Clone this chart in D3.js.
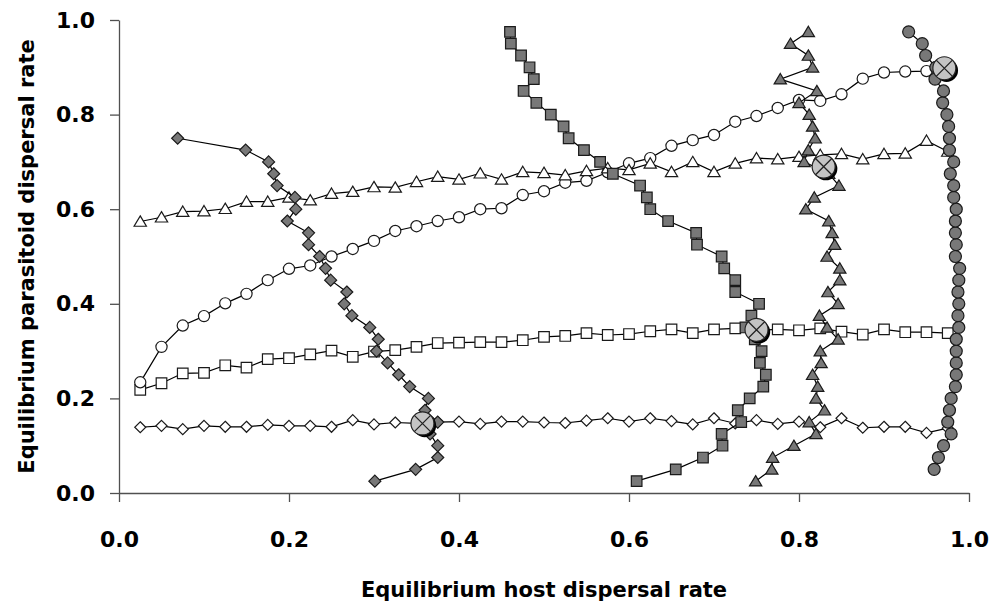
<!DOCTYPE html>
<html>
<head>
<meta charset="utf-8">
<script src="https://cdn.jsdelivr.net/npm/d3@7"></script>
<style>
  body { margin: 0; background: #fff; }
</style>
</head>
<body>
<div id="canvas"></div>
<script>
"use strict"

/* Dispersal levels used as the fixed axis of every series (0.025 steps) */
let levels = [0.025, 0.05, 0.075, 0.1, 0.125, 0.15, 0.175, 0.2, 0.225, 0.25,
              0.275, 0.3, 0.325, 0.35, 0.375, 0.4, 0.425, 0.45, 0.475, 0.5,
              0.525, 0.55, 0.575, 0.6, 0.625, 0.65, 0.675, 0.7, 0.725, 0.75,
              0.775, 0.8, 0.825, 0.85, 0.875, 0.9, 0.925, 0.95, 0.975];

/* Open markers: host rate = level, parasitoid rate */
let openDiamondY = [0.139, 0.142, 0.135, 0.142, 0.140, 0.140, 0.144, 0.142, 0.142, 0.140,
                    0.154, 0.145, 0.149, 0.147, 0.150, 0.151, 0.146, 0.151, 0.151, 0.149,
                    0.148, 0.153, 0.158, 0.151, 0.158, 0.152, 0.145, 0.158, 0.147, 0.154,
                    0.146, 0.151, 0.139, 0.158, 0.138, 0.140, 0.140, 0.127, 0.137];
let openSquareY = [0.218, 0.232, 0.253, 0.254, 0.270, 0.265, 0.283, 0.285, 0.293, 0.301,
                   0.288, 0.299, 0.302, 0.309, 0.317, 0.318, 0.319, 0.319, 0.323, 0.330,
                   0.332, 0.338, 0.334, 0.336, 0.342, 0.346, 0.338, 0.346, 0.348, 0.344,
                   0.346, 0.344, 0.348, 0.341, 0.335, 0.346, 0.340, 0.340, 0.338];
let openCircleY = [0.234, 0.309, 0.354, 0.374, 0.401, 0.421, 0.450, 0.474, 0.481, 0.500,
                   0.516, 0.533, 0.554, 0.564, 0.575, 0.583, 0.600, 0.602, 0.630, 0.638,
                   0.656, 0.660, 0.678, 0.697, 0.708, 0.734, 0.746, 0.757, 0.785, 0.797,
                   0.814, 0.831, 0.829, 0.843, 0.876, 0.889, 0.891, 0.892, 0.895];
let openTriangleY = [0.574, 0.583, 0.595, 0.596, 0.601, 0.616, 0.616, 0.625, 0.619, 0.633,
                     0.637, 0.647, 0.646, 0.658, 0.669, 0.663, 0.676, 0.663, 0.679, 0.677,
                     0.672, 0.681, 0.687, 0.683, 0.697, 0.679, 0.700, 0.679, 0.697, 0.708,
                     0.706, 0.711, 0.715, 0.717, 0.706, 0.717, 0.718, 0.745, 0.722];

/* Grey markers: parasitoid rate = level, host rate */
let greyDiamondX = [0.301, 0.349, 0.375, 0.375, 0.366, 0.375, 0.360, 0.364, 0.342, 0.329,
                    0.316, 0.303, 0.305, 0.295, 0.274, 0.265, 0.268, 0.249, 0.243, 0.236,
                    0.223, 0.223, 0.198, 0.208, 0.207, 0.186, 0.182, 0.176, 0.149, 0.069];
let greySquareX = [0.609, 0.655, 0.687, 0.710, 0.709, 0.732, 0.728, 0.742, 0.758, 0.761,
                   0.754, 0.756, 0.748, 0.737, 0.744, 0.753, 0.725, 0.725, 0.712, 0.709,
                   0.680, 0.679, 0.646, 0.625, 0.621, 0.613, 0.581, 0.566, 0.547, 0.529,
                   0.523, 0.508, 0.491, 0.476, 0.488, 0.483, 0.473, 0.461, 0.460];
let greyTriangleX = [0.749, 0.768, 0.769, 0.794, 0.820, 0.812, 0.830, 0.820, 0.822, 0.816,
                     0.826, 0.825, 0.846, 0.833, 0.824, 0.846, 0.834, 0.848, 0.848, 0.833,
                     0.842, 0.839, 0.835, 0.808, 0.818, 0.847, 0.835, 0.806, 0.811, 0.819,
                     0.816, 0.812, 0.800, 0.821, 0.778, 0.816, 0.811, 0.790, 0.811];
let greyCircleX = [null, 0.959, 0.964, 0.970, 0.979, 0.975, 0.977, 0.979, 0.984, 0.985,
                   0.985, 0.985, 0.985, 0.988, 0.987, 0.988, 0.987, 0.988, 0.989, 0.984,
                   0.985, 0.984, 0.984, 0.985, 0.982, 0.982, 0.978, 0.982, 0.977, 0.977,
                   0.976, 0.974, 0.969, 0.970, 0.960, 0.961, 0.949, 0.945, 0.929];

/* Joint equilibria (crossed circles) */
let equilibriumX = [0.357, 0.750, 0.829, 0.971];
let equilibriumY = [0.147, 0.345, 0.690, 0.898];

let axisTicks = [0, 0.2, 0.4, 0.6, 0.8, 1.0];

/* Configuration variables: drawing */
let svgWidth = 994;
let svgHeight = 613;
let margin = { top: 20, right: 25, bottom: 120, left: 119 };
let chartWidth = svgWidth - margin.left - margin.right;   // 850
let chartHeight = svgHeight - margin.top - margin.bottom; // 473

let svg = d3.select("#canvas")
    .append("svg")
    .attr("width", svgWidth)
    .attr("height", svgHeight);

svg.append("rect")
    .attr("width", svgWidth)
    .attr("height", svgHeight)
    .attr("fill", "#ffffff");

let xScale = d3.scaleLinear()
    .domain([0, 1])
    .range([margin.left, margin.left + chartWidth]);

let yScale = d3.scaleLinear()
    .domain([0, 1])
    .range([margin.top + chartHeight, margin.top]);

let fontFamily = "'DejaVu Sans', Verdana, sans-serif";

/* Axes */
let xAxis = d3.axisBottom(xScale)
    .tickValues(axisTicks)
    .tickFormat(d3.format(".1f"))
    .tickSize(9)
    .tickSizeOuter(0)
    .tickPadding(29);

let yAxis = d3.axisLeft(yScale)
    .tickValues(axisTicks)
    .tickFormat(d3.format(".1f"))
    .tickSize(9)
    .tickSizeOuter(0)
    .tickPadding(15);

let gx = svg.append("g")
    .attr("transform", "translate(0," + (margin.top + chartHeight) + ")")
    .call(xAxis);

let gy = svg.append("g")
    .attr("transform", "translate(" + margin.left + ",0)")
    .call(yAxis);

[gx, gy].forEach(function(g) {
    g.selectAll("path, line")
        .attr("stroke", "#505050")
        .attr("stroke-width", 1.3);
    g.selectAll("text")
        .attr("fill", "#000")
        .style("font-family", fontFamily)
        .style("font-weight", "bold")
        .style("font-size", "22px");
});

/* Axis titles */
svg.append("text")
    .attr("x", margin.left + chartWidth / 2)
    .attr("y", 597)
    .attr("text-anchor", "middle")
    .style("font-family", fontFamily)
    .style("font-weight", "bold")
    .style("font-size", "21px")
    .text("Equilibrium host dispersal rate");

svg.append("text")
    .attr("transform", "translate(34," + (margin.top + chartHeight / 2) + ") rotate(-90)")
    .attr("text-anchor", "middle")
    .style("font-family", fontFamily)
    .style("font-weight", "bold")
    .style("font-size", "21px")
    .text("Equilibrium parasitoid dispersal rate");

/* Marker shapes as path strings centred on 0,0 */
function markerPath(shape, r) {
    if (shape === "circle") {
        return "M" + r + ",0A" + r + "," + r + " 0 1,1 " + (-r) + ",0A" + r + "," + r + " 0 1,1 " + r + ",0Z";
    }
    if (shape === "square") {
        return "M" + (-r) + "," + (-r) + "H" + r + "V" + r + "H" + (-r) + "Z";
    }
    if (shape === "diamond") {
        return "M0," + (-r) + "L" + r + ",0L0," + r + "L" + (-r) + ",0Z";
    }
    // triangle
    return "M0," + (-r) + "L" + (r * 1.1) + "," + (r * 0.85) + "L" + (-r * 1.1) + "," + (r * 0.85) + "Z";
}

/* Build the point lists for one series */
function openSeries(values) {
    return levels.map(function(lv, i) { return { x: lv, y: values[i] }; });
}
function greySeries(values) {
    return values.map(function(v, i) { return { x: v, y: levels[i] }; })
        .filter(function(d) { return d.x !== null; });
}

let series = [
    { points: openSeries(openDiamondY),   shape: "diamond",  r: 5.5, fill: "#ffffff" },
    { points: openSeries(openSquareY),    shape: "square",   r: 5.3, fill: "#ffffff" },
    { points: openSeries(openCircleY),    shape: "circle",   r: 5.6, fill: "#ffffff" },
    { points: openSeries(openTriangleY),  shape: "triangle", r: 5.6, fill: "#ffffff" },
    { points: greySeries(greyDiamondX),   shape: "diamond",  r: 6,   fill: "#787878" },
    { points: greySeries(greySquareX),    shape: "square",   r: 5.3, fill: "#787878" },
    { points: greySeries(greyTriangleX),  shape: "triangle", r: 5.6, fill: "#787878" },
    { points: greySeries(greyCircleX),    shape: "circle",   r: 6,   fill: "#787878" }
];

let line = d3.line()
    .x(function(d) { return xScale(d.x); })
    .y(function(d) { return yScale(d.y); });

series.forEach(function(s) {
    let g = svg.append("g");
    g.append("path")
        .attr("d", line(s.points))
        .attr("fill", "none")
        .attr("stroke", "#000")
        .attr("stroke-width", 1.2);
    g.selectAll("path.marker")
        .data(s.points)
        .join("path")
        .attr("class", "marker")
        .attr("transform", function(d) { return "translate(" + xScale(d.x) + "," + yScale(d.y) + ")"; })
        .attr("d", markerPath(s.shape, s.r))
        .attr("fill", s.fill)
        .attr("stroke", "#1a1a1a")
        .attr("stroke-width", 1.2);
});

/* Equilibrium markers: shaded circle with a cross and a dark shadow */
let eqData = equilibriumX.map(function(x, i) { return { x: x, y: equilibriumY[i] }; });
let eqR = 11.5;
let eq = svg.append("g")
    .selectAll("g")
    .data(eqData)
    .join("g")
    .attr("transform", function(d) { return "translate(" + xScale(d.x) + "," + yScale(d.y) + ")"; });

eq.append("circle")
    .attr("cx", 2.2)
    .attr("cy", 2.2)
    .attr("r", eqR)
    .attr("fill", "#000");

eq.append("circle")
    .attr("r", eqR)
    .attr("fill", "#c4c4c4")
    .attr("stroke", "#222")
    .attr("stroke-width", 1.2);

let k = eqR * Math.SQRT1_2;
eq.append("path")
    .attr("d", "M" + (-k) + "," + (-k) + "L" + k + "," + k + "M" + k + "," + (-k) + "L" + (-k) + "," + k)
    .attr("stroke", "#222")
    .attr("stroke-width", 1.3);
</script>
</body>
</html>
